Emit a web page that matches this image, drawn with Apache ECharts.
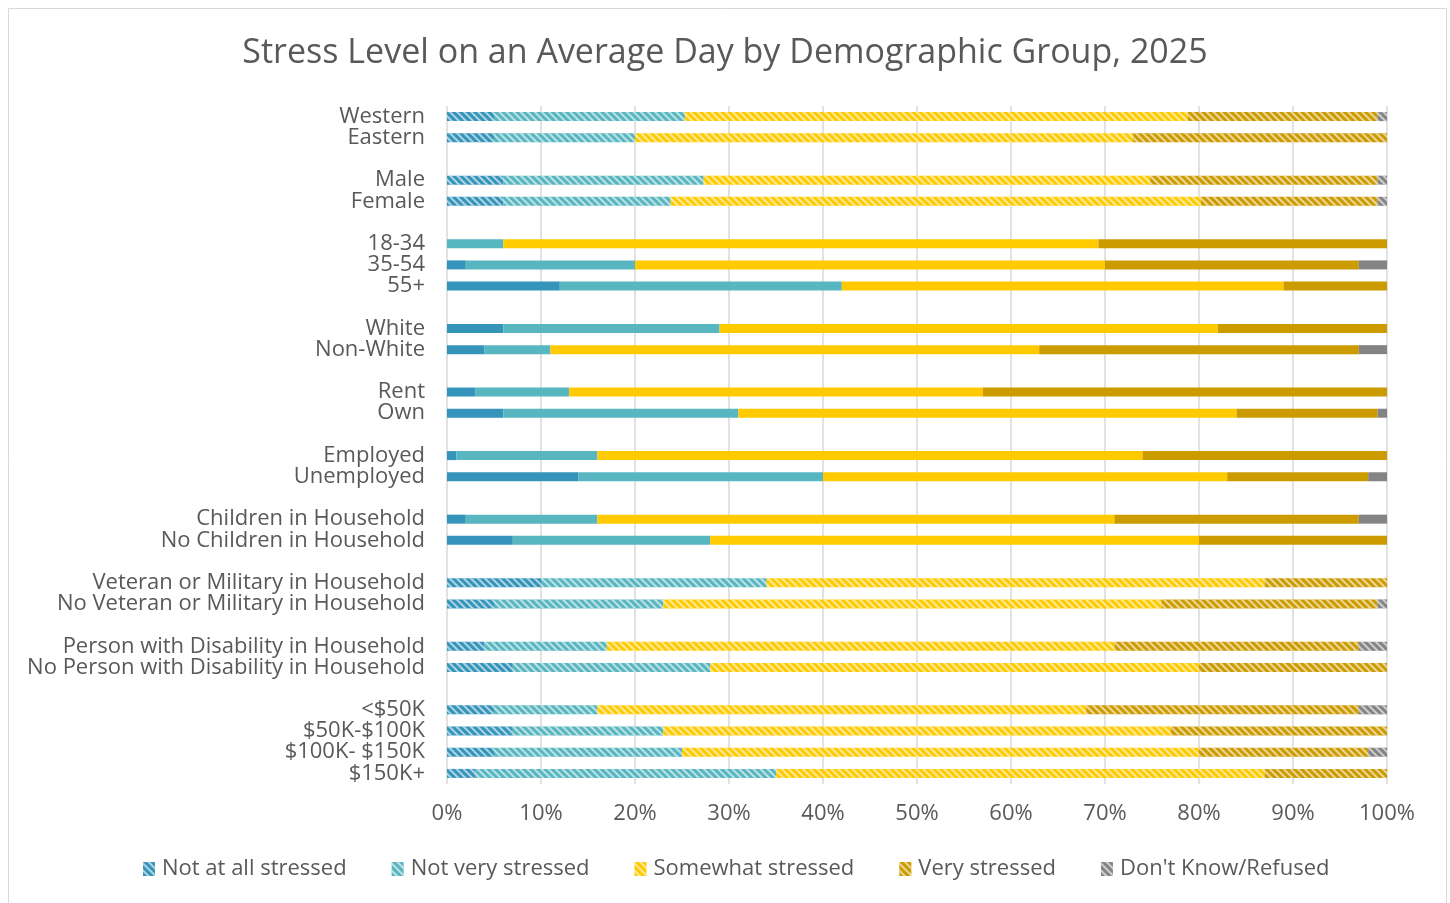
<!DOCTYPE html>
<html>
<head>
<meta charset="utf-8">
<script src="https://cdn.jsdelivr.net/npm/echarts@6/dist/echarts.min.js"></script>
<style>
html,body{margin:0;padding:0;background:#fff;}
#chart{width:1450px;height:903px;}
</style>
</head>
<body>
<div id="chart"></div>
<script>
// ---- Data ----
const categories = ['Western','Eastern',' ','Male','Female','  ','18-34','35-54','55+','   ','White','Non-White','    ','Rent','Own','     ','Employed','Unemployed','      ','Children in Household','No Children in Household','       ','Veteran or Military in Household','No Veteran or Military in Household','        ','Person with Disability in Household','No Person with Disability in Household','         ','<$50K','$50K-$100K','$100K- $150K','$150K+'];
const seriesNames = ['Not at all stressed','Not very stressed','Somewhat stressed','Very stressed',"Don't Know/Refused"];
const notAtAll   = [5,5,null,6,6,null,0,2,12,null,6,4,null,3,6,null,1,14,null,2,7,null,10,5,null,4,7,null,5,7,5,3];
const notVery    = [20.3,15,null,21.3,17.8,null,6,18,30,null,23,7,null,10,25,null,15,26,null,14,21,null,24,18,null,13,21,null,11,16,20,32];
const somewhat   = [53.5,53,null,47.5,56.4,null,63.3,50,47,null,53,52,null,44,53,null,58,43,null,55,52,null,53,53,null,54,52,null,52,54,55,52];
const very       = [20.2,27,null,24.2,18.8,null,30.7,27,11,null,18,34,null,43,15,null,26,15,null,26,20,null,13,23,null,26,20,null,29,23,18,13];
const dontKnow   = [1,0,null,1,1,null,0,3,0,null,0,3,null,0,1,null,0,2,null,3,0,null,0,1,null,3,0,null,3,0,2,0];
// groups drawn with a diagonal pattern in the reference
const patternedGroups = ['Western','Eastern','Male','Female','Veteran or Military in Household','No Veteran or Military in Household','Person with Disability in Household','No Person with Disability in Household','<$50K','$50K-$100K','$100K- $150K','$150K+'];
const xTicks = [0,10,20,30,40,50,60,70,80,90,100];

// ---- Styles ----
const colors = ['#3494BA','#58B6C0','#FFCA00','#CC9B00','#848484'];
const FONT = 'Open Sans';
const hatch = {
  color: 'rgba(255,255,255,0.6)',
  symbol: 'rect',
  symbolSize: 1,
  dashArrayX: [1, 0],
  dashArrayY: [2, 3],
  rotation: Math.PI / 4
};
const allValues = [notAtAll, notVery, somewhat, very, dontKnow];

const series = allValues.map((vals, si) => ({
  name: seriesNames[si],
  type: 'bar',
  stack: 'total',
  barWidth: 9,
  itemStyle: { color: colors[si] },
  emphasis: { disabled: true },
  data: vals.map((v, i) => {
    if (v === null) return null;
    const item = { value: v };
    if (patternedGroups.includes(categories[i])) {
      item.itemStyle = { decal: hatch };
    }
    return item;
  })
}));

const chart = echarts.init(document.getElementById('chart'), null, { renderer: 'canvas' });
chart.setOption({
  animation: false,
  backgroundColor: '#fff',
  textStyle: { fontFamily: FONT },
  title: {
    text: 'Stress Level on an Average Day by Demographic Group, 2025',
    left: 'center',
    top: 31,
    textStyle: { fontFamily: FONT, fontSize: 34, fontWeight: 'normal', color: '#595959' }
  },
  graphic: [{
    type: 'rect',
    shape: { x: 8.5, y: 8.5, width: 1438, height: 900 },
    style: { fill: 'none', stroke: '#d9d9d9', lineWidth: 1 },
    silent: true
  }],
  legend: {
    data: seriesNames.map(n => ({ name: n, itemStyle: { decal: hatch } })),
    bottom: 18,
    left: 138,
    itemWidth: 12,
    itemHeight: 14,
    itemGap: 45,
    icon: 'rect',
    textStyle: { fontFamily: FONT, fontSize: 22, color: '#595959', padding: [0, 0, 0, 2] }
  },
  grid: { left: 447, right: 63, top: 106, bottom: 119, containLabel: false },
  xAxis: {
    type: 'value',
    min: 0,
    max: 100,
    interval: 10,
    axisLine: { show: false },
    axisTick: { show: false },
    splitLine: { show: true, lineStyle: { color: '#d9d9d9', width: 1.5 } },
    axisLabel: {
      formatter: v => xTicks.includes(v) ? v + '%' : '',
      fontFamily: FONT, fontSize: 22, color: '#595959', margin: 19
    }
  },
  yAxis: {
    type: 'category',
    data: categories,
    inverse: true,
    axisLine: { show: false },
    axisTick: { show: false },
    splitLine: { show: false },
    axisLabel: { fontFamily: FONT, fontSize: 22, color: '#595959', margin: 22, interval: 0 }
  },
  series: series
});
</script>
</body>
</html>
